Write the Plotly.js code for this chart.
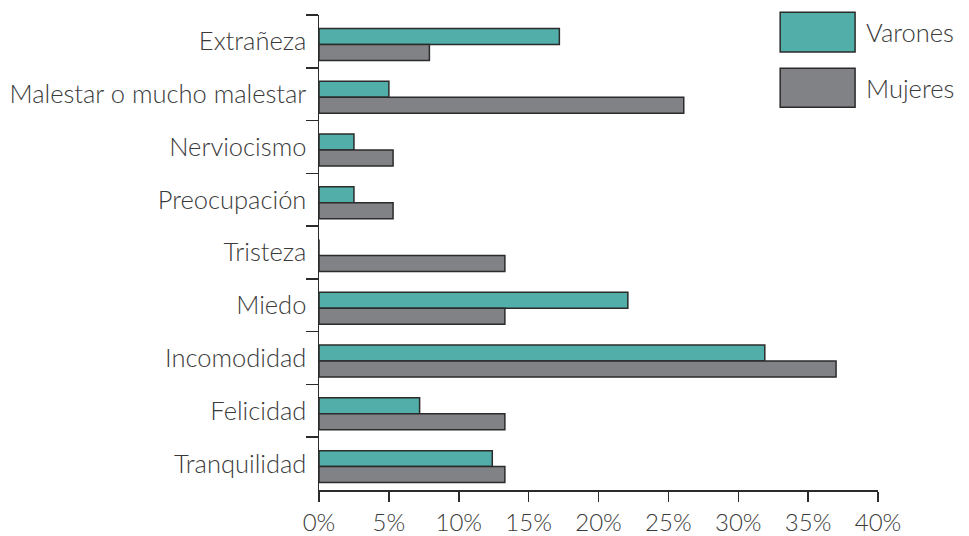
<!DOCTYPE html>
<html><head><meta charset="utf-8">
<script src="https://cdn.plot.ly/plotly-3.0.1.min.js"></script>
<style>body{margin:0;background:#fff}#chart{width:969px;height:536px}</style>
</head><body><div id="chart"></div>
<script>
const categories = ["Extrañeza","Malestar o mucho malestar","Nerviocismo","Preocupación","Tristeza","Miedo","Incomodidad","Felicidad","Tranquilidad"];
const varones = [17.2, 5.0, 2.5, 2.5, 0, 22.1, 31.9, 7.2, 12.4];
const mujeres = [7.9, 26.1, 5.3, 5.3, 13.3, 13.3, 37.0, 13.3, 13.3];
const seriesNames = ["Varones","Mujeres"];
const seriesColors = ["#52AEA9","#808285"];
const xTicks = [0,5,10,15,20,25,30,35,40];

const font = {family:"Lato, Open Sans, sans-serif", size:25.5, color:"#3a3a3a", weight:300};
const xFont = Object.assign({}, font, {size:24});
const barW = 0.303, shift = 0.057;
const traces = [varones, mujeres].map((vals,i)=>({
  type:"bar", orientation:"h", name:seriesNames[i], y:categories, x:vals,
  width:barW, offset:(i-1)*barW+shift,
  marker:{color:seriesColors[i], line:{color:"#2b2b2b", width:1.5}},
  showlegend:false, hoverinfo:"x+y"
}));
const legendShapes = [], legendAnn = [];
const ly = [[1.006,0.922],[0.888,0.806]];
seriesNames.forEach((n,i)=>{
  legendShapes.push({type:"rect", xref:"paper", yref:"paper", x0:0.825, x1:0.959, y0:ly[i][1], y1:ly[i][0],
    fillcolor:seriesColors[i], line:{color:"#2b2b2b", width:1.5}});
  legendAnn.push({xref:"paper", yref:"paper", x:0.975, y:(ly[i][0]+ly[i][1])/2, text:n, showarrow:false,
    xanchor:"left", yanchor:"middle", font:font});
});
Plotly.newPlot("chart", traces, {
  width:969, height:536,
  margin:{l:319, r:91, t:15, b:46},
  paper_bgcolor:"#fff", plot_bgcolor:"#fff",
  barmode:"overlay",
  font:font,
  xaxis:{range:[0,40], tickvals:xTicks, ticktext:xTicks.map(v=>v+"%"), showgrid:false, zeroline:false,
    showline:true, linecolor:"#2b2b2b", linewidth:1.5, ticks:"outside", ticklen:10, tickwidth:1.5, tickcolor:"#2b2b2b",
    tickfont:xFont, ticklabelstandoff:1, fixedrange:true},
  yaxis:{type:"category", autorange:"reversed", showgrid:false, zeroline:false, showline:true, linecolor:"#2b2b2b", linewidth:1.5,
    ticks:"outside", tickson:"boundaries", ticklen:12, tickwidth:1.5, tickcolor:"#2b2b2b", tickfont:font, ticklabelstandoff:6},
  shapes:legendShapes, annotations:legendAnn
}, {displayModeBar:false, staticPlot:true});
</script></body></html>
